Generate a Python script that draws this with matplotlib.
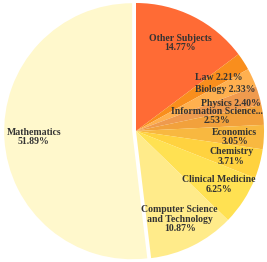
import numpy as np
import matplotlib
matplotlib.use("Agg")
import matplotlib.pyplot as plt

# dados (ordem horaria a partir do topo)
categorias = ["Other Subjects", "Law", "Biology", "Physics", "Information Science...",
              "Economics", "Chemistry", "Clinical Medicine",
              "Computer Science\nand Technology", "Mathematics"]
percentuais = [14.77, 2.21, 2.33, 2.40, 2.53, 3.05, 3.71, 6.25, 10.87, 51.89]
quebra_linha = [True, False, False, False, True, True, True, True, True, True]
cores = ["#FF6B35", "#F98E1D", "#FFB04F", "#EF9A4E", "#F2A13C",
         "#F8B840", "#FFD23F", "#FFE152", "#FFEB8A", "#FFF8CC"]
destaque = [0, 0, 0, 0, 0, 0, 0, 0, 0, 0.03]

fig = plt.figure(figsize=(2.67, 2.62), dpi=100)
ax = fig.add_axes([0, 0, 1, 1])

fatias, _ = ax.pie(percentuais, colors=cores, startangle=90, counterclock=False,
                   explode=destaque, radius=1.0,
                   wedgeprops=dict(linewidth=0))

# posicao dos rotulos dentro das fatias
dist_rotulo = [0.77] * len(percentuais)
dist_rotulo[4] = 0.64
ajuste_y = [0.0] * len(percentuais)
ajuste_y[4] = 0.035   # rotulo largo, sobe um pouco para nao colidir
ajuste_y[5] = -0.01
for i, (fatia, nome, p, quebra) in enumerate(zip(fatias, categorias, percentuais, quebra_linha)):
    ang = np.deg2rad((fatia.theta1 + fatia.theta2) / 2)
    cx, cy = fatia.center
    x = cx + dist_rotulo[i] * np.cos(ang)
    y = cy + dist_rotulo[i] * np.sin(ang) + ajuste_y[i]
    texto = f"{nome}\n{p:.2f}%" if quebra else f"{nome} {p:.2f}%"
    ax.text(x, y, texto, ha="center", va="center", fontsize=7,
            fontweight="bold", family="Liberation Serif", color="#333333",
            linespacing=1.05)

esc = 128.0
ax.set_xlim(-136 / esc, 131 / esc)
ax.set_ylim(-131 / esc, 131 / esc)
ax.set_aspect("auto")
ax.axis("off")

fig.savefig("out.png", dpi=100, facecolor="white")
